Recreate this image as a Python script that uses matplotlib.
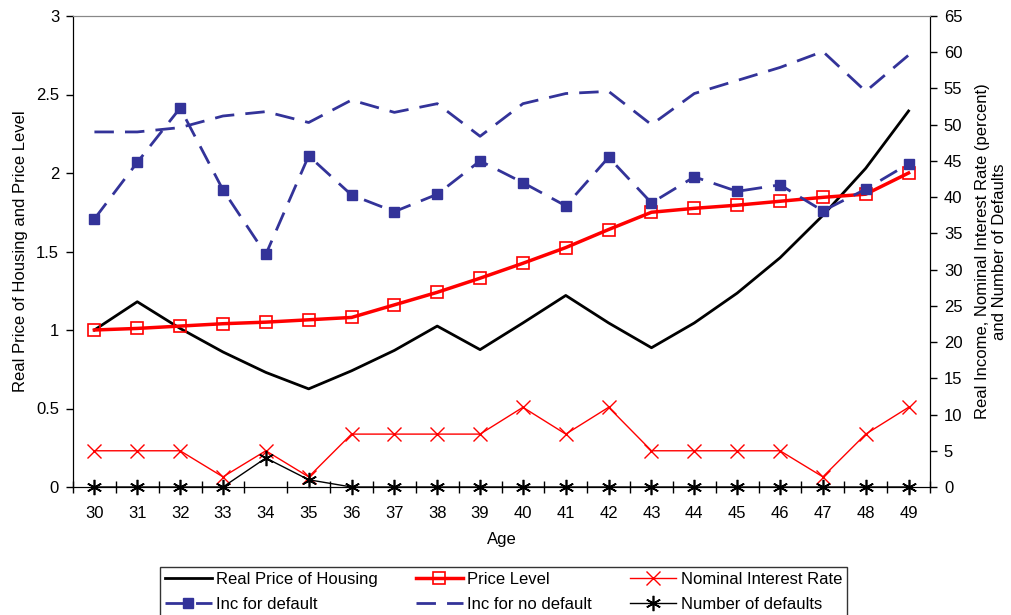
import matplotlib
matplotlib.use("Agg")
import matplotlib.pyplot as plt
from matplotlib.ticker import MultipleLocator, FixedLocator

plt.rcParams['font.family'] = ['Liberation Sans', 'DejaVu Sans']
plt.rcParams['font.size'] = 12

ages = list(range(30, 50))
real_price_housing = [1.0, 1.18, 1.01, 0.86, 0.73, 0.625, 0.74, 0.87, 1.025, 0.875,
                      1.045, 1.22, 1.045, 0.887, 1.045, 1.235, 1.46, 1.73, 2.03, 2.395]
price_level = [1.0, 1.01, 1.025, 1.04, 1.05, 1.065, 1.08, 1.16, 1.24, 1.33,
               1.425, 1.525, 1.64, 1.75, 1.775, 1.795, 1.82, 1.845, 1.865, 2.0]
nominal_interest = [5, 5, 5, 1.4, 5, 1.4, 7.3, 7.3, 7.3, 7.3,
                    11, 7.3, 11, 5, 5, 5, 5, 1.4, 7.3, 11]
inc_default = [37.0, 44.8, 52.3, 41.0, 32.1, 45.7, 40.3, 38.0, 40.4, 45.0,
               42.0, 38.8, 45.5, 39.2, 42.8, 40.8, 41.7, 38.1, 41.1, 44.6]
inc_no_default = [49.0, 49.0, 49.6, 51.2, 51.8, 50.3, 53.4, 51.7, 52.9, 48.4,
                  52.9, 54.3, 54.6, 50.0, 54.3, 56.1, 57.9, 60.1, 54.6, 59.6]
num_defaults = [0, 0, 0, 0, 4, 1, 0, 0, 0, 0, 0, 0, 0, 0, 0, 0, 0, 0, 0, 0]

navy = '#333399'
x = list(range(len(ages)))

fig = plt.figure(figsize=(10.11, 6.15), dpi=100)
ax = fig.add_axes([73/1011, 1-487/615, (930-73)/1011, (487-16)/615])
ax2 = ax.twinx()

l_rp, = ax.plot(x, real_price_housing, color='black', lw=2, label='Real Price of Housing', zorder=3)
l_pl, = ax.plot(x, price_level, color='red', lw=2.5, marker='s', ms=9, mfc='none', mec='red',
                mew=1.2, label='Price Level', zorder=4, clip_on=False)

l_nir, = ax2.plot(x, nominal_interest, color='red', lw=1, marker='x', ms=10, mew=1,
                  label='Nominal Interest Rate', clip_on=False)
l_id, = ax2.plot(x, inc_default, color=navy, lw=2, ls=(0, (7, 4)), marker='s', ms=6.5,
                 mfc=navy, mec=navy, label='Inc for default', clip_on=False)
l_ind, = ax2.plot(x, inc_no_default, color=navy, lw=2, ls=(0, (7, 4)), label='Inc for no default')
l_nd, = ax2.plot(x, num_defaults, color='black', lw=1, marker=(6, 2, 0), ms=11, mew=1.2,
                 label='Number of defaults', clip_on=False, zorder=5)

ax.set_xlim(-0.5, len(ages) - 0.5)
ax.set_ylim(0, 3)
ax2.set_ylim(0, 65)
ax2.yaxis.set_major_locator(MultipleLocator(5))
ax.set_yticks([0, 0.5, 1, 1.5, 2, 2.5, 3])
ax.set_yticklabels(['0', '0.5', '1', '1.5', '2', '2.5', '3'])

ax.set_xticks(x)
ax.set_xticklabels([str(a) for a in ages])
ax.tick_params(axis='x', which='major', length=0, pad=13.5)
ax.xaxis.set_minor_locator(FixedLocator([i + 0.5 for i in range(-1, len(ages))]))
ax.tick_params(axis='x', which='minor', direction='inout', length=9, width=1)
ax.tick_params(axis='y', direction='out', length=5, width=1, pad=5)
ax2.tick_params(axis='y', direction='out', length=5, width=1, pad=5)

for a in (ax, ax2):
    a.spines['top'].set_color('#888888')
    a.spines['left'].set_color('black')
    a.spines['right'].set_color('black')
    a.spines['bottom'].set_color('black')

ax.set_xlabel('Age', labelpad=8)
ax.set_ylabel('Real Price of Housing and Price Level', labelpad=6)
ax2.set_ylabel('Real Income, Nominal Interest Rate (percent)\nand Number of Defaults', labelpad=9)

handles = [l_rp, l_id, l_pl, l_ind, l_nir, l_nd]
leg = fig.legend(handles=handles, ncol=3, loc='upper left',
                 bbox_to_anchor=(160/1011, 1-567/615), frameon=True, fancybox=False,
                 edgecolor='black', handlelength=2.8, handletextpad=0.25,
                 columnspacing=2.3, borderpad=0.3, labelspacing=0.6, fontsize=12,
                 borderaxespad=0)
leg.get_frame().set_linewidth(1)

fig.savefig('out.png', dpi=100)
